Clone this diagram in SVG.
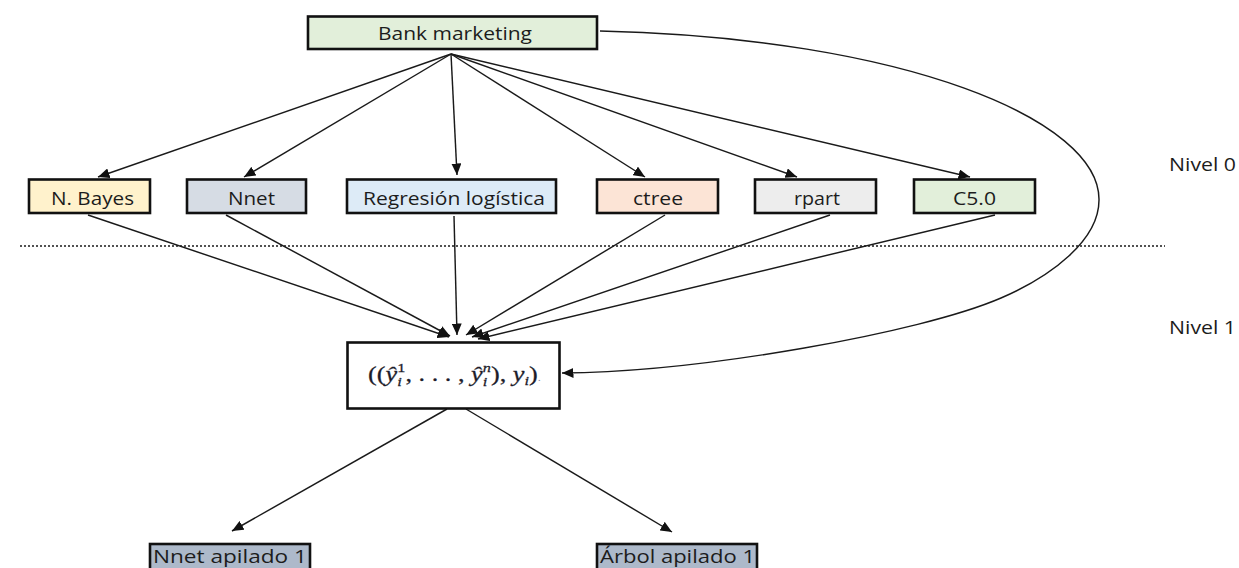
<svg xmlns="http://www.w3.org/2000/svg" width="1239" height="568" viewBox="0 0 1239 568">
  <defs>
    <marker id="arrow" markerUnits="userSpaceOnUse" markerWidth="12" markerHeight="10" refX="11.5" refY="5" orient="auto">
      <path d="M0,0 L11.5,5 L0,10 z" fill="#111"/>
    </marker>
    <style>
      .box { stroke: #111; stroke-width: 2.6; }
      .lbl { font-family: "Open Sans", "Liberation Sans", sans-serif; font-size: 18.5px; fill: #1c1c1c; }
      .edge { fill: none; stroke: #1a1a1a; stroke-width: 1.45; marker-end: url(#arrow); }
      .math { font-family: "Liberation Serif", "DejaVu Serif", serif; font-size: 21px; fill: #1c1c2a; }
      .it { font-style: italic; }
      .sc { font-size: 13px; }
    </style>
  </defs>

  <rect width="1239" height="568" fill="#ffffff"/>

  <!-- level separator -->
  <line x1="20" y1="246" x2="1165" y2="246" stroke="#1a1a1a" stroke-width="1.6" stroke-dasharray="2 2"/>

  <!-- connectors -->
  <g id="connectors">
    <!-- dataset to base learners -->
    <line class="edge" x1="451" y1="54" x2="98" y2="177"/>
    <line class="edge" x1="451" y1="54" x2="244" y2="177"/>
    <line class="edge" x1="451" y1="54" x2="457" y2="175"/>
    <line class="edge" x1="451" y1="54" x2="645" y2="177"/>
    <line class="edge" x1="451" y1="54" x2="797" y2="177"/>
    <line class="edge" x1="451" y1="54" x2="970" y2="177"/>
    <!-- base learners to meta dataset -->
    <line class="edge" x1="88" y1="215" x2="449" y2="337"/>
    <line class="edge" x1="226" y1="215" x2="450" y2="336"/>
    <line class="edge" x1="454" y1="216" x2="457" y2="335"/>
    <line class="edge" x1="665" y1="215" x2="466" y2="335"/>
    <line class="edge" x1="830" y1="215" x2="472" y2="337"/>
    <line class="edge" x1="995" y1="215" x2="478" y2="339"/>
    <!-- true labels passed directly -->
    <path class="edge" d="M600,31 C905,38 1100,120 1099,200 C1099,240 1052,276 1001,298 C920,333 700,372 562,373"/>
    <!-- meta dataset to stacked models -->
    <line class="edge" x1="447" y1="409" x2="232" y2="531"/>
    <line class="edge" x1="466" y1="409" x2="672" y2="532"/>
  </g>

  <g id="bank-marketing">
    <rect class="box" x="308" y="16.5" width="289" height="32.5" fill="#e2efda" stroke-width="3"/>
    <text class="lbl" x="378" y="40" textLength="154" lengthAdjust="spacingAndGlyphs">Bank marketing</text>
  </g>

  <g id="n-bayes">
    <rect class="box" x="29" y="179.5" width="121" height="33.5" fill="#fff2cc"/>
    <text class="lbl" x="51" y="205" textLength="83" lengthAdjust="spacingAndGlyphs">N. Bayes</text>
  </g>
  <g id="nnet">
    <rect class="box" x="187" y="179.5" width="119" height="33.5" fill="#d6dce4"/>
    <text class="lbl" x="228" y="205" textLength="47" lengthAdjust="spacingAndGlyphs">Nnet</text>
  </g>
  <g id="regresion-logistica">
    <rect class="box" x="347" y="179.5" width="209" height="33.5" fill="#ddebf7"/>
    <text class="lbl" x="363" y="205" textLength="182" lengthAdjust="spacingAndGlyphs">Regresión logística</text>
  </g>
  <g id="ctree">
    <rect class="box" x="597" y="179.5" width="121" height="33.5" fill="#fce4d6"/>
    <text class="lbl" x="633" y="205" textLength="50" lengthAdjust="spacingAndGlyphs">ctree</text>
  </g>
  <g id="rpart">
    <rect class="box" x="755" y="179.5" width="121" height="33.5" fill="#ededed"/>
    <text class="lbl" x="794" y="205" textLength="46" lengthAdjust="spacingAndGlyphs">rpart</text>
  </g>
  <g id="c50">
    <rect class="box" x="914" y="179.5" width="121" height="33.5" fill="#e2efda"/>
    <text class="lbl" x="953" y="205" textLength="43" lengthAdjust="spacingAndGlyphs">C5.0</text>
  </g>

  <g id="nivel-0">
    <text class="lbl" x="1169" y="171" textLength="67" lengthAdjust="spacingAndGlyphs">Nivel 0</text>
  </g>
  <g id="nivel-1">
    <text class="lbl" x="1169" y="334" textLength="67" lengthAdjust="spacingAndGlyphs">Nivel 1</text>
  </g>

  <g id="meta-dataset">
    <rect class="box" x="347.5" y="342.5" width="212" height="66" fill="#ffffff" stroke-width="3"/>
    <g transform="translate(368,381) scale(1.25,1)">
      <text class="math" x="0" y="0" stroke="#1c1c2a" stroke-width="0.25">((<tspan class="it">ŷ</tspan><tspan class="sc" dy="-9">1</tspan><tspan class="sc it" dx="-6.5" dy="14">i</tspan><tspan dx="3" dy="-5">, . . . , </tspan><tspan class="it">ŷ</tspan><tspan class="sc it" dy="-9">n</tspan><tspan class="sc it" dx="-6.5" dy="14">i</tspan><tspan dx="3" dy="-5">), </tspan><tspan class="it">y</tspan><tspan class="sc it" dy="4">i</tspan><tspan dy="-4">)</tspan><tspan font-size="10" stroke="none" fill="#8a8aa0">.</tspan></text>
    </g>
  </g>

  <g id="nnet-apilado">
    <rect class="box" x="150" y="544" width="160" height="40" fill="#adb9ca" stroke-width="3"/>
    <text class="lbl" x="153" y="563" font-size="19" textLength="154" lengthAdjust="spacingAndGlyphs">Nnet apilado 1</text>
  </g>
  <g id="arbol-apilado">
    <rect class="box" x="597" y="544" width="160" height="40" fill="#adb9ca" stroke-width="3"/>
    <text class="lbl" x="600" y="563" font-size="19" textLength="155" lengthAdjust="spacingAndGlyphs">Árbol apilado 1</text>
  </g>
</svg>
